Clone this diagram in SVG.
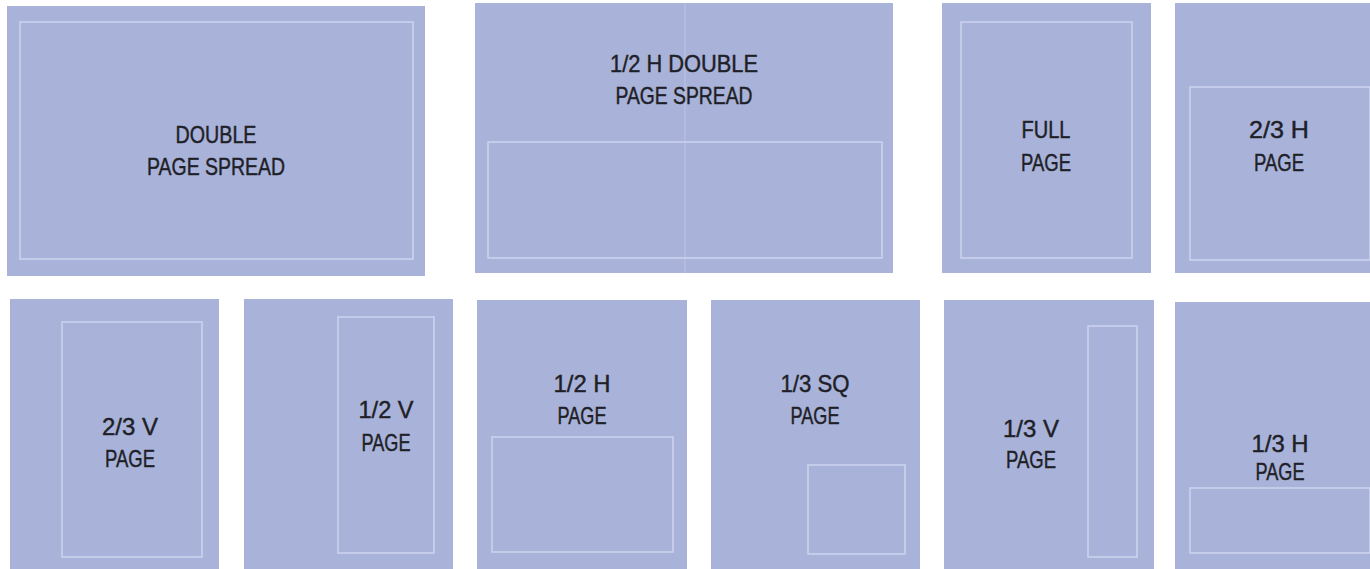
<svg xmlns="http://www.w3.org/2000/svg" width="1370" height="569" viewBox="0 0 1370 569">
<style>
.page{fill:#a9b3d9;}
.area{fill:none;stroke:#cbd2ee;stroke-width:1.6;}
.fold{stroke:#bcc4e6;stroke-width:1;}
.lbl{font-family:"Liberation Sans",Arial,sans-serif;font-size:24px;fill:#1f1f28;stroke:#1f1f28;stroke-width:0.45;text-anchor:middle;}
</style>
<rect width="1370" height="569" fill="#ffffff"/>
<g id="double-page-spread">
<rect class="page" x="7" y="6" width="418" height="270"/>
<rect class="area" x="20" y="22" width="393" height="237"/>
<text class="lbl" x="216" y="143" textLength="81" lengthAdjust="spacingAndGlyphs">DOUBLE</text>
<text class="lbl" x="216" y="175" textLength="138" lengthAdjust="spacingAndGlyphs">PAGE SPREAD</text>
</g>
<g id="half-h-double-page-spread">
<rect class="page" x="475" y="3" width="418" height="270"/>
<line class="fold" x1="685" y1="3" x2="685" y2="273"/>
<rect class="area" x="488" y="142" width="394" height="116"/>
<text class="lbl" x="684" y="72" textLength="148" lengthAdjust="spacingAndGlyphs">1/2 H DOUBLE</text>
<text class="lbl" x="684" y="104" textLength="137" lengthAdjust="spacingAndGlyphs">PAGE SPREAD</text>
</g>
<g id="full-page">
<rect class="page" x="942" y="3" width="209" height="270"/>
<rect class="area" x="961" y="22" width="171" height="236"/>
<text class="lbl" x="1046" y="138" textLength="49" lengthAdjust="spacingAndGlyphs">FULL</text>
<text class="lbl" x="1046" y="171" textLength="50" lengthAdjust="spacingAndGlyphs">PAGE</text>
</g>
<g id="two-thirds-h-page">
<rect class="page" x="1175" y="3" width="209" height="270"/>
<rect class="area" x="1190" y="87" width="180" height="173"/>
<text class="lbl" x="1279" y="138" textLength="60" lengthAdjust="spacingAndGlyphs">2/3 H</text>
<text class="lbl" x="1279" y="171" textLength="50" lengthAdjust="spacingAndGlyphs">PAGE</text>
</g>
<g id="two-thirds-v-page">
<rect class="page" x="10" y="299" width="209" height="270"/>
<rect class="area" x="62" y="322" width="140" height="235"/>
<text class="lbl" x="130" y="435" textLength="56" lengthAdjust="spacingAndGlyphs">2/3 V</text>
<text class="lbl" x="130" y="467" textLength="50" lengthAdjust="spacingAndGlyphs">PAGE</text>
</g>
<g id="half-v-page">
<rect class="page" x="244" y="299" width="209" height="270"/>
<rect class="area" x="338" y="317" width="96" height="236"/>
<text class="lbl" x="386" y="418" textLength="55" lengthAdjust="spacingAndGlyphs">1/2 V</text>
<text class="lbl" x="386" y="451" textLength="49" lengthAdjust="spacingAndGlyphs">PAGE</text>
</g>
<g id="half-h-page">
<rect class="page" x="477" y="300" width="210" height="269"/>
<rect class="area" x="492" y="437" width="181" height="115"/>
<text class="lbl" x="582" y="392" textLength="57" lengthAdjust="spacingAndGlyphs">1/2 H</text>
<text class="lbl" x="582" y="424" textLength="49" lengthAdjust="spacingAndGlyphs">PAGE</text>
</g>
<g id="third-sq-page">
<rect class="page" x="711" y="300" width="209" height="269"/>
<rect class="area" x="808" y="465" width="97" height="89"/>
<text class="lbl" x="815" y="392" textLength="69" lengthAdjust="spacingAndGlyphs">1/3 SQ</text>
<text class="lbl" x="815" y="424" textLength="49" lengthAdjust="spacingAndGlyphs">PAGE</text>
</g>
<g id="third-v-page">
<rect class="page" x="944" y="300" width="210" height="269"/>
<rect class="area" x="1088" y="326" width="49" height="231"/>
<text class="lbl" x="1031" y="437" textLength="56" lengthAdjust="spacingAndGlyphs">1/3 V</text>
<text class="lbl" x="1031" y="468" textLength="50" lengthAdjust="spacingAndGlyphs">PAGE</text>
</g>
<g id="third-h-page">
<rect class="page" x="1175" y="302" width="209" height="267"/>
<rect class="area" x="1190" y="488" width="180" height="65"/>
<text class="lbl" x="1280" y="452" textLength="57" lengthAdjust="spacingAndGlyphs">1/3 H</text>
<text class="lbl" x="1280" y="480" textLength="49" lengthAdjust="spacingAndGlyphs">PAGE</text>
</g>
<g id="connectors"/>
</svg>
